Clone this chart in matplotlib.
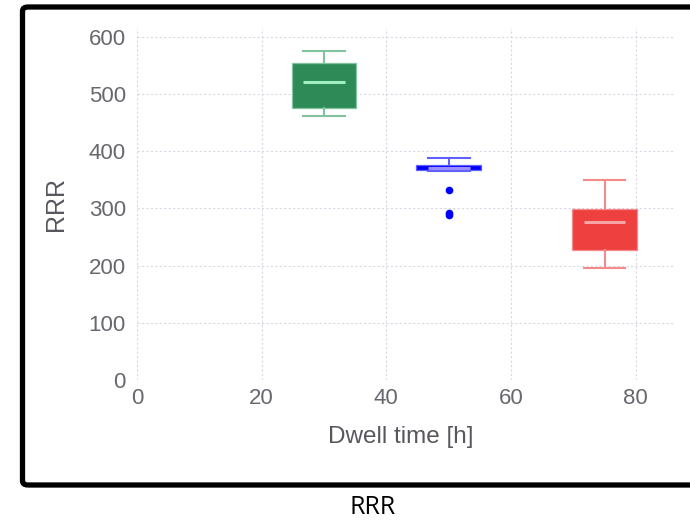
import matplotlib
matplotlib.use("Agg")
import matplotlib.pyplot as plt
from matplotlib.patches import FancyBboxPatch

positions = [30, 50, 75]
whislo = [462, 366, 196]
q1 = [476, 367, 227]
med = [521, 371, 276]
q3 = [553, 376, 299]
whishi = [575, 388, 350]
fliers = [[], [332, 292, 288], []]
fills = ["#2E8B57", "#0000FF", "#EF4040"]
edges = ["#82C29F", "#6060FF", "#F58A8A"]
medcols = ["#9FF0BF", "#9C8CFF", "#F9A5A5"]
xticks = [0, 20, 40, 60, 80]
yticks = [0, 100, 200, 300, 400, 500, 600]

W, H = 690, 522
fig = plt.figure(figsize=(W/100, H/100), dpi=100)
ax = fig.add_axes([137/W, (H-380)/H, (675-137)/W, (380-28)/H])

BOXW = 10.4
CAPW = 6.7
for i in range(len(positions)):
    s = dict(whislo=whislo[i], q1=q1[i], med=med[i], q3=q3[i],
             whishi=whishi[i], fliers=fliers[i])
    res = ax.bxp([s], positions=[positions[i]], widths=BOXW, patch_artist=True,
                 showfliers=True,
                 boxprops=dict(facecolor=fills[i], edgecolor=edges[i], linewidth=0.9),
                 whiskerprops=dict(color=edges[i], linewidth=1.5),
                 capprops=dict(color=edges[i], linewidth=1.5),
                 capwidths=CAPW,
                 medianprops=dict(color=medcols[i], linewidth=2.2),
                 flierprops=dict(marker='o', markersize=4.5, markerfacecolor=fills[i],
                                 markeredgecolor=fills[i]))
    for m in res["medians"]:
        m.set_xdata([positions[i] - CAPW/2, positions[i] + CAPW/2])

ax.set_xlim(0, 86.3)
ax.set_ylim(0, 615)
ax.set_xticks(xticks)
ax.set_yticks(yticks)
ax.set_xticklabels([str(v) for v in xticks])
ax.set_yticklabels([str(v) for v in yticks])
for sp in ax.spines.values():
    sp.set_visible(False)
ax.grid(True, color="#D8D8E4", linestyle=(0, (2, 2)), linewidth=0.8)
ax.set_axisbelow(True)
tc = "#6A666E"
ax.tick_params(axis="y", length=0, labelsize=16, labelcolor=tc, pad=8)
ax.tick_params(axis="x", length=0, labelsize=16, labelcolor=tc, pad=6)
for lab in ax.get_xticklabels() + ax.get_yticklabels():
    lab.set_family("Liberation Sans")
ax.set_xlabel("Dwell time [h]", fontsize=17.5, color="#5A565E",
              family="Liberation Sans")
ax.xaxis.set_label_coords((401 - 137) / (675 - 137), (380 - 426) / (380 - 28))
ax.set_ylabel("RRR", fontsize=18, color="#5A565E",
              family="Liberation Sans", labelpad=15)

frame = FancyBboxPatch((22.5/W, (H-485)/H), (700-22.5)/W, (485-7)/H,
                       boxstyle="round,pad=0,rounding_size=0.008",
                       transform=fig.transFigure, fill=False,
                       edgecolor="black", linewidth=3.8, clip_on=False)
fig.patches.append(frame)

fig.text(373/W, 1-508/H, "RRR", ha="center", va="center", fontsize=18,
         family="Open Sans", color="black")

fig.savefig("out.png", dpi=100)
